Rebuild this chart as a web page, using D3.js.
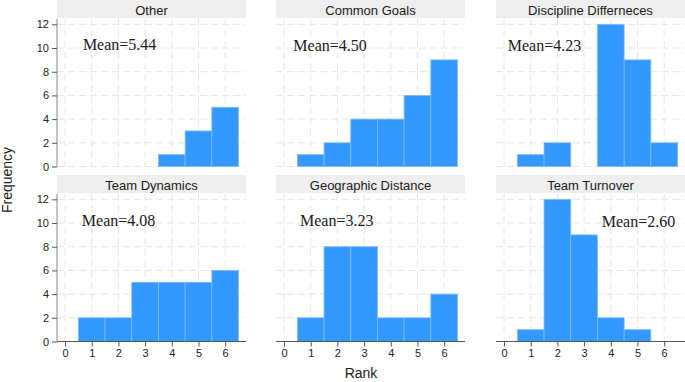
<!DOCTYPE html>
<html>
<head>
<meta charset="utf-8">
<script src="https://cdn.jsdelivr.net/npm/d3@7"></script>
<style>
  body { margin: 0; background: white; }
  svg { display: block; font-family: Arial, "Liberation Sans", sans-serif; }
</style>
</head>
<body>
<div class="chart"></div>
<script>

// panel titles, in reading order
var panelTitles = ["Other", "Common Goals", "Discipline Differneces",
                   "Team Dynamics", "Geographic Distance", "Team Turnover"];

// rank categories
var ranks = [1, 2, 3, 4, 5, 6];

// counts per rank, one array per panel
var countsOther      = [0, 0, 0, 1, 3, 5];
var countsGoals      = [1, 2, 4, 4, 6, 9];
var countsDiscipline = [1, 2, 0, 12, 9, 2];
var countsDynamics   = [2, 2, 5, 5, 5, 6];
var countsGeographic = [2, 8, 8, 2, 2, 4];
var countsTurnover   = [1, 12, 9, 2, 1, 0];

var meanLabels = ["Mean=5.44", "Mean=4.50", "Mean=4.23", "Mean=4.08", "Mean=3.23", "Mean=2.60"];

var xTicks = [0, 1, 2, 3, 4, 5, 6];
var yTicks = [0, 2, 4, 6, 8, 10, 12];

var allCounts = [countsOther, countsGoals, countsDiscipline,
                 countsDynamics, countsGeographic, countsTurnover];

// where the mean label sits inside each panel (data units)
var meanPos = [[0.67, 10.3], [0.35, 10.25], [0.14, 10.25],
               [0.63, 10.25], [0.60, 10.2], [3.66, 10.15]];

var width = 685, height = 382;
var colLeft = [57, 276, 496];
var panelW = 189;
var rowTop = [0, 175];      // top of each strip
var stripH = 18;
var plotTop = 19;           // plot top, relative to row
var plotBottom = 166.5;     // zero line, relative to row

var barColor = "#3399ff";

var svg = d3.select(".chart").append("svg")
  .attr("width", width)
  .attr("height", height);

var x = d3.scaleLinear().domain([-0.3, 6.78]).range([0, panelW]);
var y = d3.scaleLinear().domain([0, 12.45]).range([plotBottom - plotTop, 0]);
var plotH = plotBottom - plotTop;

panelTitles.forEach(function(title, i) {
  var col = i % 3, row = Math.floor(i / 3);
  var counts = allCounts[i];

  var panel = svg.append("g")
    .attr("transform", "translate(" + colLeft[col] + "," + rowTop[row] + ")");

  // strip header
  panel.append("rect")
    .attr("x", 0).attr("y", 0)
    .attr("width", panelW).attr("height", stripH)
    .attr("fill", "#eeeeee");

  panel.append("text")
    .text(title)
    .attr("x", panelW / 2)
    .attr("y", stripH / 2 + 1)
    .attr("text-anchor", "middle")
    .attr("dominant-baseline", "central")
    .style("font-size", "13px")
    .attr("fill", "#1a1a1a");

  var plot = panel.append("g")
    .attr("transform", "translate(0," + plotTop + ")");

  // dashed grid
  plot.append("g")
    .selectAll("line")
    .data(yTicks)
    .enter()
    .append("line")
    .attr("x1", 0).attr("x2", panelW)
    .attr("y1", d => y(d)).attr("y2", d => y(d))
    .attr("stroke", "#e6e6e6")
    .attr("stroke-dasharray", "7,4");

  plot.append("g")
    .selectAll("line")
    .data(xTicks)
    .enter()
    .append("line")
    .attr("x1", d => x(d)).attr("x2", d => x(d))
    .attr("y1", 0).attr("y2", plotH)
    .attr("stroke", "#e6e6e6")
    .attr("stroke-dasharray", "7,4");

  // bars, one per rank
  plot.append("g")
    .selectAll("rect")
    .data(ranks.map((r, j) => ({rank: r, n: counts[j]})).filter(d => d.n > 0))
    .enter()
    .append("rect")
    .attr("x", d => x(d.rank - 0.5))
    .attr("width", d => x(d.rank + 0.5) - x(d.rank - 0.5))
    .attr("y", d => y(d.n))
    .attr("height", d => y(0) - y(d.n))
    .attr("fill", barColor)
    .attr("stroke", "#7dbcff")
    .attr("stroke-width", 0.8);

  // mean annotation
  plot.append("text")
    .text(meanLabels[i])
    .attr("x", x(meanPos[i][0]))
    .attr("y", y(meanPos[i][1]))
    .attr("dominant-baseline", "central")
    .style("font-family", "'Liberation Serif', 'Times New Roman', serif")
    .style("font-size", "16px")
    .attr("fill", "#1a1a1a");

  // y axis only on the first column
  if (col == 0) {
    var yAxis = plot.append("g")
      .call(d3.axisLeft(y).tickValues(yTicks).tickSize(5).tickPadding(3).tickSizeOuter(0));
    yAxis.select(".domain").attr("stroke", "#888").attr("d", "M0,0V" + plotH);
    yAxis.selectAll(".tick line").attr("stroke", "#555");
    yAxis.selectAll("text").style("font-size", "11px").attr("fill", "#222")
      .style("font-family", "Arial, 'Liberation Sans', sans-serif");
  }

  // x axis only on the bottom row
  if (row == 1) {
    var xAxis = plot.append("g")
      .attr("transform", "translate(0," + plotH + ")")
      .call(d3.axisBottom(x).tickValues(xTicks).tickSize(5).tickPadding(3).tickSizeOuter(0));
    xAxis.select(".domain").attr("stroke", "#555").attr("d", "M0,0H" + panelW);
    xAxis.selectAll(".tick line").attr("stroke", "#555");
    xAxis.selectAll("text").style("font-size", "11px").attr("fill", "#222")
      .style("font-family", "Arial, 'Liberation Sans', sans-serif");
  }
});

// shared axis titles
svg.append("text")
  .text("Frequency")
  .attr("transform", "translate(7,180) rotate(-90)")
  .attr("text-anchor", "middle")
  .attr("dominant-baseline", "central")
  .style("font-size", "14px")
  .attr("fill", "#1a1a1a");

svg.append("text")
  .text("Rank")
  .attr("x", 361)
  .attr("y", 373)
  .attr("text-anchor", "middle")
  .attr("dominant-baseline", "central")
  .style("font-size", "14px")
  .attr("fill", "#1a1a1a");

</script>
</body>
</html>
